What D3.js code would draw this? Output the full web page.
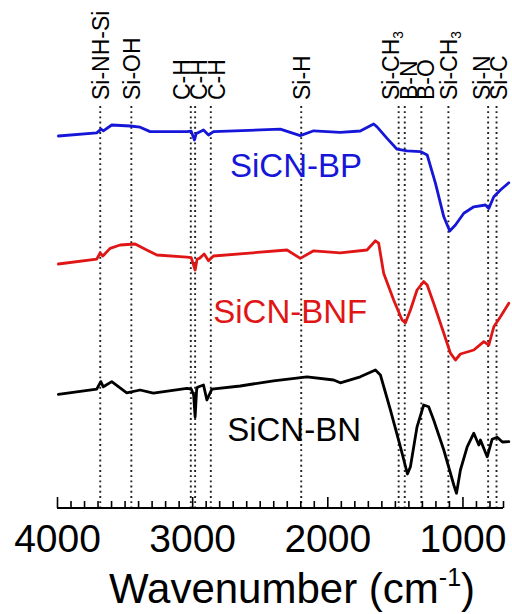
<!DOCTYPE html>
<html>
<head>
<meta charset="utf-8">
<script src="https://cdn.jsdelivr.net/npm/d3@7"></script>
<style>
  html, body { margin: 0; padding: 0; background: #fff; }
  svg { display: block; }
  text { font-family: "Liberation Sans", Arial, Helvetica, sans-serif; }
</style>
</head>
<body>
<svg id="chart" width="512" height="614"></svg>
<script>
// FTIR spectra, offset vertically (transmittance in arbitrary units)
const wavenumberBP = [3990, 3706, 3674, 3657, 3595, 3459, 3385, 3311, 3039, 3007, 2983, 2970, 2953, 2916, 2879, 2842, 2348, 2200, 2101, 1904, 1756, 1657, 1632, 1558, 1484, 1410, 1311, 1261, 1200, 1138, 1094, 1052, 990, 916, 830, 805, 768, 719, 657];
const transBP      = [93.0, 93.8, 94.7, 94.3, 95.75, 95.5, 95.2, 94.1, 94.1, 94.2, 92.0, 93.6, 93.9, 94.5, 93.25, 94.1, 94.7, 93.1, 94.3, 93.9, 94.25, 96.0, 95.3, 92.4, 89.7, 89.3, 89.1, 88.25, 81.2, 72.8, 69.25, 70.75, 73.7, 75.3, 75.75, 74.9, 77.8, 79.5, 81.3];

const wavenumberBNF = [3990, 3706, 3681, 3661, 3607, 3533, 3422, 3336, 3261, 3039, 3007, 2978, 2963, 2946, 2911, 2879, 2842, 2298, 2200, 2101, 1904, 1706, 1644, 1620, 1583, 1509, 1447, 1422, 1385, 1336, 1287, 1261, 1213, 1138, 1089, 1052, 1015, 916, 842, 805, 768, 719, 657];
const transBNF      = [61.0, 62.2, 63.8, 63.0, 64.9, 65.75, 66.0, 64.5, 63.25, 62.7, 62.6, 59.5, 62.25, 62.4, 63.5, 61.8, 63.0, 64.5, 62.4, 64.3, 63.8, 64.5, 66.8, 66.2, 58.7, 52.0, 47.0, 46.3, 49.5, 54.5, 56.6, 55.75, 51.2, 43.7, 38.7, 37.0, 38.5, 39.5, 41.6, 40.75, 45.3, 47.8, 51.2];

const wavenumberBN = [3990, 3706, 3676, 3657, 3595, 3484, 3385, 3287, 3039, 3007, 2989, 2978, 2967, 2961, 2916, 2891, 2854, 2644, 2398, 2150, 1953, 1904, 1756, 1644, 1607, 1533, 1459, 1407, 1385, 1336, 1287, 1250, 1213, 1138, 1064, 1044, 1015, 965, 916, 879, 867, 817, 780, 743, 704, 657];
const transBN      = [28.4, 29.7, 31.6, 30.3, 31.6, 28.8, 29.5, 28.7, 29.9, 29.75, 28.25, 22.8, 29.5, 30.2, 30.75, 27.0, 29.7, 30.5, 31.8, 32.8, 32.0, 31.3, 32.8, 34.5, 33.25, 24.5, 15.3, 8.5, 10.3, 20.3, 25.75, 25.3, 22.0, 14.5, 5.75, 3.7, 9.5, 15.3, 18.7, 15.75, 17.0, 12.8, 17.2, 17.7, 16.5, 16.6];

const seriesNames = ["SiCN-BP", "SiCN-BNF", "SiCN-BN"];

// band assignments marked by dotted guide lines
const bandWavenumbers = [3680, 3450, 3010, 2978, 2862, 2193, 1472, 1427, 1304, 1104, 810, 748];
const bandLabels = [
  ["Si-NH-Si"], ["Si-OH"], ["C-H"], ["C-H"], ["C-H"], ["Si-H"],
  ["Si-CH", "3"], ["B-N"], ["B-O"], ["Si-CH", "3"], ["Si-N"], ["Si-C"]
];

const axisTickLabels = [4000, 3000, 2000, 1000];
const axisTitle = "Wavenumber (cm";
const axisTitleSup = "-1";

const svg = d3.select("#chart");

const x = d3.scaleLinear().domain([4000, 700]).range([57, 503]);
const y = d3.scaleLinear().domain([0, 100]).range([508, 108]);

const colors = ["#1616d8", "#e01616", "#000000"];
const series = [
  { name: seriesNames[0], w: wavenumberBP, t: transBP, color: colors[0], lw: 2720, lt: 82.75 },
  { name: seriesNames[1], w: wavenumberBNF, t: transBNF, color: colors[1], lw: 2844, lt: 46.25 },
  { name: seriesNames[2], w: wavenumberBN, t: transBN, color: colors[2], lw: 2741, lt: 16.75 }
];

// dotted guide lines
const guideTop = 106;
svg.append("g").selectAll("line")
  .data(bandWavenumbers)
  .join("line")
  .attr("x1", d => x(d)).attr("x2", d => x(d))
  .attr("y1", guideTop).attr("y2", y(0))
  .attr("stroke", "#222")
  .attr("stroke-width", 1.9)
  .attr("stroke-dasharray", "1.9,3.3");

// spread label positions so neighbouring rotated labels do not collide
function spreadPositions(xs, gap, maxX) {
  const clusters = [];
  xs.forEach((v, i) => {
    clusters.push({ idx: [i], sum: v });
    let merged = true;
    while (merged && clusters.length > 1) {
      merged = false;
      const b = clusters[clusters.length - 1];
      const a = clusters[clusters.length - 2];
      const ca = a.sum / a.idx.length, cb = b.sum / b.idx.length;
      const aRight = ca + (a.idx.length - 1) / 2 * gap;
      const bLeft = cb - (b.idx.length - 1) / 2 * gap;
      if (bLeft - aRight < gap) {
        clusters.splice(clusters.length - 2, 2, { idx: a.idx.concat(b.idx), sum: a.sum + b.sum });
        merged = true;
      }
    }
  });
  const out = new Array(xs.length);
  clusters.forEach(c => {
    const n = c.idx.length, center = c.sum / n;
    c.idx.forEach((k, j) => { out[k] = center + (j - (n - 1) / 2) * gap; });
  });
  const over = d3.max(out) - maxX;
  if (over > 0) {
    for (let k = out.length - 1; k >= 0; k--) {
      const lim = k === out.length - 1 ? maxX : out[k + 1] - gap;
      if (out[k] > lim) out[k] = lim;
    }
  }
  return out;
}

const labelX = spreadPositions(bandWavenumbers.map(d => x(d)), 17.5, 499);
const labelFont = 23;
const labelG = svg.append("g");
bandLabels.forEach((parts, i) => {
  const t = labelG.append("text")
    .attr("transform", `translate(${labelX[i]},100) rotate(-90)`)
    .attr("dy", "0.36em")
    .attr("font-size", labelFont)
    .attr("fill", "#000")
    .text(parts[0]);
  if (parts[1]) {
    t.append("tspan")
      .attr("font-size", labelFont * 0.6)
      .attr("dy", "0.3em")
      .text(parts[1]);
  }
});

// spectra
const line = d3.line().x(d => x(d[0])).y(d => y(d[1]));
svg.append("g").selectAll("path")
  .data(series)
  .join("path")
  .attr("d", s => line(s.w.map((w, i) => [w, s.t[i]])))
  .attr("fill", "none")
  .attr("stroke", s => s.color)
  .attr("stroke-width", 2.8)
  .attr("stroke-linejoin", "round")
  .attr("stroke-linecap", "round");

// series names
svg.append("g").selectAll("text")
  .data(series)
  .join("text")
  .attr("x", s => x(s.lw))
  .attr("y", s => y(s.lt))
  .attr("font-size", 33)
  .attr("fill", s => s.color)
  .text(s => s.name);

// bottom axis: minor ticks every 100, major every 1000, drawn inward
const axisY = y(0);
const minorTicks = d3.range(4000, 699, -100);
svg.append("g")
  .attr("transform", `translate(0,${axisY})`)
  .call(d3.axisBottom(x).tickValues(minorTicks.filter(v => v % 1000 !== 0)).tickSize(-7).tickFormat(""))
  .call(g => g.select(".domain").remove())
  .call(g => g.selectAll("line").attr("stroke", "#000").attr("stroke-width", 1.6));

const major = svg.append("g")
  .attr("transform", `translate(0,${axisY})`)
  .call(d3.axisBottom(x).tickValues(axisTickLabels).tickSize(-11).tickPadding(0).tickFormat(d3.format("d")));
major.select(".domain").attr("d", `M${x(4000)},0H${x(700)}`).attr("stroke", "#000").attr("stroke-width", 2.2);
major.selectAll("line").attr("stroke", "#000").attr("stroke-width", 1.6);
major.selectAll("text")
  .attr("y", 44)
  .attr("dy", null)
  .attr("font-size", 39)
  .attr("font-family", "'Liberation Sans', Arial, sans-serif")
  .attr("fill", "#000");

// axis title
const title = svg.append("text")
  .attr("x", (x(4000) + x(700)) / 2 + 12)
  .attr("y", 603)
  .attr("text-anchor", "middle")
  .attr("font-size", 42)
  .attr("fill", "#000");
title.append("tspan").text(axisTitle);
title.append("tspan").attr("font-size", 25).attr("dy", -17).text(axisTitleSup);
title.append("tspan").attr("dy", 17).text(")");
</script>
</body>
</html>
